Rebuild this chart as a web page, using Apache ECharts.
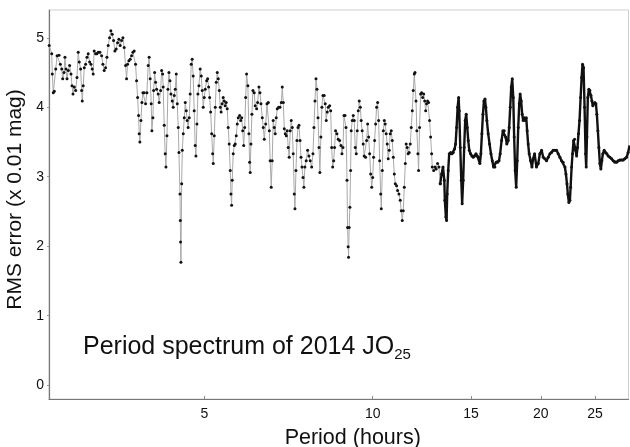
<!DOCTYPE html>
<html>
<head>
<meta charset="utf-8">
<script src="https://cdn.jsdelivr.net/npm/echarts@6/dist/echarts.min.js"></script>
<style>
  html, body { margin: 0; padding: 0; background: #fff; }
  #chart { width: 630px; height: 447px; }
</style>
</head>
<body>
<div id="chart"></div>
<script>
// period (hours) and rms error (x 0.01 mag)
const periodHours = [
  2.636, 2.664, 2.670, 2.681, 2.692, 2.708, 2.723, 2.745, 2.760, 2.776, 2.787, 2.802, 2.813, 2.825, 2.837, 2.852, 2.868, 2.884, 2.896, 2.908,
  2.923, 2.940, 2.956, 2.971, 2.984, 3.001, 3.013, 3.021, 3.033, 3.046, 3.063, 3.080, 3.096, 3.114, 3.131, 3.147, 3.160, 3.173, 3.192, 3.209,
  3.226, 3.249, 3.272, 3.289, 3.307, 3.326, 3.344, 3.362, 3.381, 3.399, 3.418, 3.437, 3.456, 3.474, 3.494, 3.513, 3.532, 3.552, 3.572, 3.591,
  3.611, 3.626, 3.641, 3.661, 3.681, 3.702, 3.722, 3.742, 3.763, 3.779, 3.795, 3.810, 3.820, 3.831, 3.847, 3.863, 3.879, 3.899, 3.922, 3.943,
  3.964, 3.980, 3.997, 4.014, 4.025, 4.042, 4.054, 4.071, 4.087, 4.104, 4.131, 4.148, 4.173, 4.190, 4.207, 4.217, 4.235, 4.252, 4.265, 4.283,
  4.300, 4.318, 4.336, 4.354, 4.377, 4.395, 4.414, 4.432, 4.450, 4.469, 4.487, 4.500, 4.519, 4.525, 4.530, 4.537, 4.551, 4.562, 4.581, 4.600,
  4.619, 4.638, 4.655, 4.674, 4.694, 4.713, 4.733, 4.752, 4.772, 4.792, 4.811, 4.826, 4.846, 4.866, 4.886, 4.912, 4.933, 4.953, 4.974, 4.994,
  5.015, 5.044, 5.065, 5.086, 5.107, 5.128, 5.150, 5.171, 5.184, 5.205, 5.227, 5.248, 5.270, 5.292, 5.314, 5.336, 5.355, 5.377, 5.400, 5.422,
  5.444, 5.467, 5.490, 5.513, 5.535, 5.559, 5.575, 5.591, 5.605, 5.628, 5.652, 5.675, 5.699, 5.722, 5.746, 5.779, 5.804, 5.828, 5.852, 5.876,
  5.901, 5.925, 5.946, 5.979, 6.004, 6.021, 6.036, 6.054, 6.079, 6.104, 6.137, 6.162, 6.198, 6.224, 6.258, 6.284, 6.310, 6.344, 6.370, 6.397,
  6.434, 6.469, 6.504, 6.531, 6.554, 6.582, 6.609, 6.636, 6.664, 6.692, 6.720, 6.748, 6.787, 6.824, 6.861, 6.889, 6.918, 6.947, 6.975, 7.004,
  7.030, 7.059, 7.088, 7.118, 7.148, 7.178, 7.207, 7.238, 7.259, 7.289, 7.319, 7.350, 7.380, 7.411, 7.442, 7.473, 7.504, 7.531, 7.562, 7.603,
  7.647, 7.689, 7.730, 7.776, 7.818, 7.850, 7.883, 7.916, 7.949, 7.982, 8.015, 8.044, 8.077, 8.111, 8.145, 8.189, 8.223, 8.257, 8.292, 8.326,
  8.374, 8.410, 8.445, 8.480, 8.515, 8.546, 8.582, 8.629, 8.675, 8.726, 8.774, 8.810, 8.847, 8.884, 8.921, 8.959, 8.996, 9.016, 9.039, 9.053,
  9.076, 9.103, 9.130, 9.153, 9.191, 9.229, 9.268, 9.306, 9.345, 9.384, 9.423, 9.462, 9.503, 9.536, 9.576, 9.616, 9.656, 9.712, 9.753, 9.794,
  9.835, 9.875, 9.918, 9.960, 10.000, 10.037, 10.079, 10.121, 10.163, 10.206, 10.248, 10.291, 10.335, 10.361, 10.404, 10.448, 10.492, 10.528, 10.572, 10.617,
  10.661, 10.705, 10.750, 10.795, 10.840, 10.886, 10.931, 10.977, 11.034, 11.080, 11.142, 11.202, 11.249, 11.296, 11.343, 11.391, 11.438, 11.479, 11.527, 11.575,
  11.624, 11.674, 11.723, 11.772, 11.821, 11.870, 11.905, 11.955, 11.997, 12.048, 12.082, 12.132, 12.185, 12.236, 12.287, 12.338, 12.390, 12.441, 12.486, 12.538,
  12.591, 12.643, 12.697, 12.750, 12.782, 12.857, 12.928, 12.990, 13.066, 13.138, 13.210, 13.287, 13.360, 13.433, 13.464, 13.521, 13.560, 13.594, 13.651, 13.708,
  13.790, 13.866, 13.941, 14.014, 14.072, 14.132, 14.191, 14.250, 14.286, 14.347, 14.407, 14.459, 14.519, 14.580, 14.641, 14.703, 14.765, 14.827, 14.889, 14.969,
  15.051, 15.133, 15.222, 15.305, 15.389, 15.470, 15.555, 15.620, 15.686, 15.752, 15.818, 15.885, 15.942, 16.009, 16.096, 16.190, 16.281, 16.370, 16.457, 16.548,
  16.638, 16.736, 16.829, 16.910, 17.010, 17.103, 17.197, 17.297, 17.383, 17.478, 17.551, 17.626, 17.700, 17.775, 17.849, 17.915, 17.989, 18.066, 18.142, 18.218,
  18.295, 18.362, 18.440, 18.517, 18.595, 18.674, 18.751, 18.831, 18.899, 18.979, 19.058, 19.173, 19.278, 19.373, 19.488, 19.638, 19.785, 19.917, 20.060, 20.195,
  20.330, 20.475, 20.614, 20.763, 20.901, 21.042, 21.194, 21.333, 21.478, 21.633, 21.778, 21.924, 22.083, 22.176, 22.270, 22.352, 22.446, 22.541, 22.608, 22.703,
  22.787, 22.882, 22.980, 23.076, 23.174, 23.260, 23.358, 23.455, 23.559, 23.658, 23.746, 23.845, 23.947, 24.047, 24.109, 24.181, 24.272, 24.374, 24.477, 24.581,
  24.685, 24.777, 24.882, 24.987, 25.093, 25.192, 25.297, 25.401, 25.506, 25.612, 25.717, 25.823, 25.961, 26.111, 26.253, 26.392, 26.578, 26.765, 26.942, 27.132,
  27.321, 27.501, 27.697, 27.891, 28.074, 28.273, 28.471, 28.659, 28.823
];

const rmsError = [
  4.89, 4.77, 4.48, 4.21, 4.23, 4.55, 4.74, 4.75, 4.62, 4.55, 4.41, 4.50, 4.72, 4.55, 4.41, 4.53, 4.60, 4.48, 4.31, 4.19,
  4.29, 4.24, 4.43, 4.79, 4.65, 4.55, 4.24, 4.09, 4.31, 4.57, 4.62, 4.72, 4.77, 4.65, 4.62, 4.55, 4.48, 4.81, 4.77, 4.77,
  4.79, 4.79, 4.74, 4.62, 4.53, 4.57, 4.72, 4.89, 5.00, 5.10, 5.05, 4.96, 4.81, 4.84, 4.93, 4.98, 4.89, 4.96, 5.00, 4.86,
  4.60, 4.41, 4.62, 4.67, 4.69, 4.74, 4.79, 4.81, 4.62, 4.38, 4.14, 3.88, 3.62, 3.50, 3.81, 4.07, 4.21, 4.21, 4.05, 4.21,
  4.60, 4.72, 4.41, 4.05, 3.66, 3.85, 4.24, 4.50, 4.36, 4.26, 4.19, 4.07, 4.24, 4.53, 4.48, 4.29, 3.74, 3.33, 3.14, 3.59,
  4.26, 4.50, 4.38, 4.19, 4.09, 4.00, 4.17, 4.26, 4.48, 4.05, 3.71, 3.35, 2.75, 2.37, 2.06, 1.77, 2.90, 3.38, 3.62, 3.85,
  4.07, 3.95, 3.81, 3.71, 3.85, 4.19, 4.62, 4.69, 4.45, 3.95, 3.45, 3.30, 3.76, 4.19, 4.31, 4.55, 4.45, 4.24, 4.00, 4.14,
  4.26, 4.38, 4.41, 4.29, 4.14, 3.93, 3.62, 3.33, 3.19, 3.59, 4.00, 4.36, 4.50, 4.41, 4.24, 4.00, 3.93, 4.05, 4.14, 4.09,
  4.02, 4.07, 3.98, 3.71, 3.47, 3.09, 2.75, 2.59, 2.95, 3.33, 3.45, 3.47, 3.59, 3.76, 3.85, 3.88, 3.81, 3.85, 3.66, 3.45,
  3.71, 4.14, 4.48, 4.31, 3.62, 3.21, 3.06, 3.47, 3.90, 4.24, 4.21, 4.02, 3.98, 4.07, 4.29, 4.21, 4.05, 3.85, 3.71, 3.54,
  3.76, 4.05, 4.07, 3.66, 3.23, 2.85, 3.23, 3.81, 3.71, 3.62, 3.85, 3.98, 4.00, 4.00, 4.07, 4.29, 4.07, 3.69, 3.62, 3.59,
  3.66, 3.42, 3.28, 3.66, 3.81, 3.71, 3.33, 2.75, 2.54, 3.09, 3.52, 3.71, 3.74, 3.52, 3.28, 3.14, 2.99, 2.85, 3.14, 3.23,
  3.38, 3.30, 3.23, 3.14, 3.33, 3.71, 4.09, 4.41, 4.26, 3.85, 3.42, 3.06, 3.57, 4.00, 4.17, 4.17, 4.05, 3.81, 3.93, 4.00,
  4.02, 3.95, 3.42, 3.14, 3.23, 3.42, 3.66, 3.62, 3.54, 3.52, 3.45, 3.33, 3.42, 3.88, 3.88, 3.71, 2.95, 2.27, 1.99, 1.84,
  2.27, 2.56, 3.09, 3.66, 3.81, 3.88, 3.81, 3.42, 3.33, 3.66, 3.95, 4.09, 4.00, 3.81, 3.66, 3.47, 3.30, 3.28, 3.52, 3.76,
  3.57, 3.33, 3.04, 2.85, 2.99, 3.28, 3.52, 3.76, 4.00, 4.07, 3.81, 3.23, 2.75, 2.54, 3.09, 3.66, 3.81, 3.76, 3.62, 3.47,
  3.26, 3.38, 3.62, 3.66, 3.52, 3.28, 3.04, 2.90, 2.87, 2.80, 2.75, 2.66, 2.51, 2.37, 2.51, 2.85, 3.19, 3.47, 3.42, 3.33,
  3.35, 3.47, 3.71, 3.95, 4.24, 4.48, 4.50, 4.09, 3.66, 3.33, 3.09, 3.71, 4.19, 4.21, 4.14, 4.19, 4.09, 3.95, 4.05, 4.09,
  4.07, 3.81, 3.57, 3.33, 3.14, 3.09, 3.14, 3.11, 3.19, 3.14, 2.90, 3.04, 3.14, 2.95, 2.66, 2.42, 2.37, 2.75, 3.09, 3.33,
  3.35, 3.33, 3.35, 3.40, 3.47, 3.71, 4.00, 4.14, 3.95, 3.42, 2.95, 2.61, 2.95, 3.42, 3.81, 3.90, 3.71, 3.52, 3.38, 3.33,
  3.30, 3.28, 3.30, 3.33, 3.30, 3.28, 3.19, 3.33, 3.62, 3.90, 4.09, 4.12, 4.00, 3.81, 3.62, 3.47, 3.33, 3.23, 3.14, 3.14,
  3.21, 3.21, 3.23, 3.33, 3.52, 3.66, 3.66, 3.57, 3.47, 3.52, 3.71, 4.00, 4.29, 4.41, 4.14, 3.57, 3.09, 2.85, 3.23, 3.71,
  4.05, 4.19, 4.09, 3.90, 3.81, 3.85, 3.81, 3.85, 3.66, 3.47, 3.33, 3.23, 3.14, 3.26, 3.33, 3.14, 3.19, 3.33, 3.38, 3.28,
  3.26, 3.23, 3.28, 3.33, 3.35, 3.38, 3.38, 3.38, 3.33, 3.28, 3.23, 3.21, 3.14, 3.04, 2.90, 2.75, 2.63, 2.66, 2.85, 3.14,
  3.33, 3.52, 3.54, 3.38, 3.30, 3.42, 3.62, 3.81, 4.14, 4.43, 4.62, 4.57, 4.00, 3.33, 3.14, 3.57, 4.14, 4.26, 4.24, 4.17,
  4.09, 4.02, 4.05, 4.07, 4.05, 3.90, 3.66, 3.42, 3.19, 3.11, 3.23, 3.33, 3.38, 3.35, 3.33, 3.30, 3.28, 3.26, 3.23, 3.21,
  3.21, 3.23, 3.24, 3.24, 3.24, 3.26, 3.28, 3.35, 3.45
];

const periodTicks = [5, 10, 15, 20, 25];
const rmsTicks = [0, 1, 2, 3, 4, 5];
const denseFrom = 13.15; // beyond this the scan points merge into a solid trace

const points = periodHours.map((p, i) => [p, rmsError[i]]);
const sparsePts = points.filter(d => d[0] <= denseFrom + 0.06);
const densePts = points.filter(d => d[0] >= denseFrom);

const chart = echarts.init(document.getElementById('chart'));
const font = 'Liberation Sans, Arial, Helvetica, sans-serif';

chart.setOption({
  animation: false,
  grid: {
    left: 49, right: 1.5, top: 10, bottom: 48,
    outerBoundsMode: 'none',
    show: true, borderColor: '#cfcfcf', borderWidth: 1, backgroundColor: 'transparent'
  },
  xAxis: {
    type: 'log',
    logBase: 10,
    min: 2.634,
    max: 28.7,
    name: 'Period (hours)',
    nameLocation: 'middle',
    nameGap: 28,
    nameTextStyle: { fontFamily: font, fontSize: 21.5, color: '#111', padding: [0, 0, 0, 28] },
    axisLine: { onZero: false, lineStyle: { color: '#777', width: 1.2 } },
    axisTick: { inside: true, length: 3, customValues: periodTicks, lineStyle: { color: '#888' } },
    axisLabel: { customValues: periodTicks, fontFamily: font, fontSize: 14, color: '#111', margin: 8 },
    splitLine: { show: false },
    minorTick: { show: false }
  },
  yAxis: {
    type: 'value',
    min: -0.2,
    max: 5.4,
    name: 'RMS error (x 0.01 mag)',
    nameLocation: 'middle',
    nameGap: 22,
    nameRotate: 90,
    nameTextStyle: { fontFamily: font, fontSize: 21, color: '#111', padding: [0, 0, 0, 10] },
    axisLine: { show: true, onZero: false, lineStyle: { color: '#777', width: 1.2 } },
    axisTick: { show: true, length: 2, customValues: rmsTicks, lineStyle: { color: '#999' } },
    axisLabel: { customValues: rmsTicks, fontFamily: font, fontSize: 14, color: '#111', margin: 5 },
    splitLine: { show: false }
  },
  graphic: [{
    type: 'text',
    left: 83,
    top: 332,
    style: {
      text: 'Period spectrum of 2014 JO{sub|25}',
      fontFamily: font,
      fontSize: 25,
      lineHeight: 30,
      fill: '#111',
      rich: {
        sub: { fontFamily: font, fontSize: 15, lineHeight: 10, verticalAlign: 'bottom', fill: '#111' }
      }
    }
  }],
  series: [
    {
      type: 'line',
      data: sparsePts,
      symbol: 'circle',
      symbolSize: 3,
      itemStyle: { color: '#111' },
      lineStyle: { color: '#a8a8a8', width: 1 }
    },
    {
      type: 'line',
      data: densePts,
      symbol: 'circle',
      symbolSize: 3,
      itemStyle: { color: '#111' },
      lineStyle: { color: '#111', width: 2.4 }
    }
  ]
});
</script>
</body>
</html>
